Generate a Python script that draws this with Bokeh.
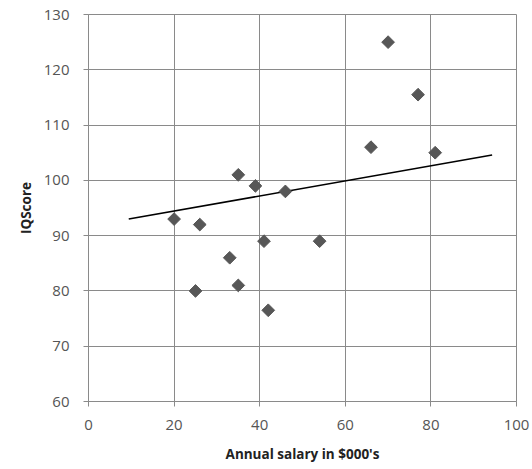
import math
from bokeh.plotting import figure
from bokeh.models import Range1d, FixedTicker, ColumnDataSource
from bokeh.embed import file_html
from bokeh.resources import INLINE

# Annual salary (in $000's) and IQ score of each person
salary = [20, 26, 25, 33, 35, 35, 39, 41, 42, 46, 54, 66, 70, 77, 81]
iq_score = [93, 92, 80, 86, 81, 101, 99, 89, 76.5, 98, 89, 106, 125, 115.5, 105]

# Trend line end points
trend_x = [9.4, 94.3]
trend_y = [93.0, 104.6]

x_ticks = [0, 20, 40, 60, 80, 100]
y_ticks = [60, 70, 80, 90, 100, 110, 120, 130]

GRID = "#8a8a8a"
TICK_TEXT = "#555555"
FONT = "Open Sans"

p = figure(width=532, height=469, output_backend="svg", toolbar_location=None,
           x_range=Range1d(0, 100), y_range=Range1d(60, 130),
           min_border_left=88, min_border_right=16, min_border_top=14,
           min_border_bottom=68)
p.outline_line_color = GRID
p.outline_line_width = 1
p.background_fill_color = "white"
p.border_fill_color = "white"

for g in (p.xgrid[0], p.ygrid[0]):
    g.grid_line_color = GRID
    g.grid_line_width = 1
p.xgrid[0].ticker = FixedTicker(ticks=x_ticks)
p.ygrid[0].ticker = FixedTicker(ticks=y_ticks)

p.xaxis.ticker = FixedTicker(ticks=x_ticks)
p.yaxis.ticker = FixedTicker(ticks=y_ticks)
for ax in (p.xaxis[0], p.yaxis[0]):
    ax.axis_line_color = GRID
    ax.major_tick_line_color = GRID
    ax.major_tick_out = 5
    ax.major_tick_in = 0
    ax.minor_tick_line_color = None
    ax.major_label_text_color = TICK_TEXT
    ax.major_label_text_font = FONT
    ax.major_label_text_font_size = "15px"
    ax.axis_label_text_font = FONT
    ax.axis_label_text_font_size = "13.5px"
    ax.axis_label_text_font_style = "bold"
    ax.axis_label_text_color = "#222222"

p.xaxis.axis_label = "Annual salary in $000's"
p.yaxis.axis_label = "IQScore"
p.xaxis.major_label_standoff = 13
p.xaxis.axis_label_standoff = 12
p.yaxis.major_label_standoff = 14
p.yaxis.axis_label_standoff = 6

src = ColumnDataSource(data=dict(x=salary, y=iq_score))
p.line(trend_x, trend_y, line_color="black", line_width=1.6)
p.scatter("x", "y", source=src, marker="square", size=9, angle=math.pi / 4,
          fill_color="#575757", line_color="#575757", line_width=1)

open("out.html", "w").write(file_html(p, INLINE))
